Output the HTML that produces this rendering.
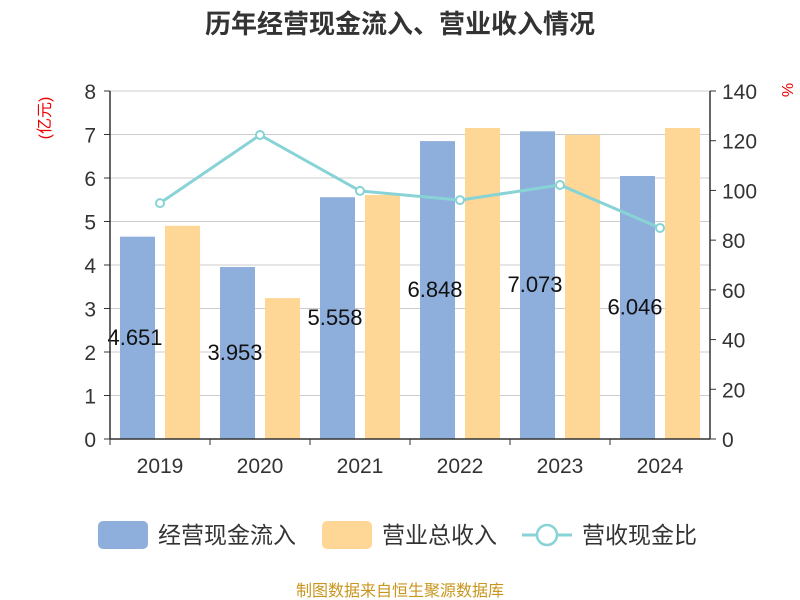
<!DOCTYPE html>
<html><head><meta charset="utf-8"><style>
body{margin:0;background:#fff;}
svg{display:block;font-family:"Liberation Sans","Noto Sans CJK SC",sans-serif;}
</style></head><body>
<svg id="chart" width="800" height="600">
<text x="400" y="33" text-anchor="middle" font-size="26" font-weight="bold" fill="#333">历年经营现金流入、营业收入情况</text>
<text x="50" y="118" font-size="16" fill="#e00" transform="rotate(-90 50 118)" text-anchor="middle">(亿元)</text>
<text x="782" y="90" font-size="16" fill="#e00" transform="rotate(90 782 90)" text-anchor="middle">%</text>
<g id="grid"></g><g id="bars"></g><g id="line"></g><g id="axes"></g>
<g>
<g><rect x="98" y="521" width="50" height="28" rx="5" fill="#8eaedb"/><text x="158" y="543" font-size="23" fill="#333">经营现金流入</text></g>
<g><rect x="322" y="521" width="50" height="28" rx="5" fill="#fed796"/><text x="382" y="543" font-size="23" fill="#333">营业总收入</text></g>
<g><line x1="522" y1="535" x2="572" y2="535" stroke="#88d3d6" stroke-width="3"/><circle cx="547" cy="535" r="10" fill="#fff" stroke="#88d3d6" stroke-width="2.5"/><text x="582" y="543" font-size="23" fill="#333">营收现金比</text></g>
</g>
<text x="400" y="596" text-anchor="middle" font-size="16" fill="#c8961e">制图数据来自恒生聚源数据库</text>
</svg>
<script>
const categories=["2019","2020","2021","2022","2023","2024"];
const cashInflow=[4.651,3.953,5.558,6.848,7.073,6.046];
const revenue=[4.90,3.24,5.61,7.15,6.99,7.15];
const ratio=[94.9,122.3,99.8,96.1,102.2,84.9];
const leftTicks=[0,1,2,3,4,5,6,7,8];
const rightTicks=[0,20,40,60,80,100,120,140];
const NS="http://www.w3.org/2000/svg";
const X0=110,X1=710,Y0=439,Y1=91;
const step=(X1-X0)/categories.length;
const yL=v=>Y0-(v/8)*(Y0-Y1);
const yR=v=>Y0-(v/140)*(Y0-Y1);
const xC=i=>X0+step*(i+0.5);
function mk(tag,attrs,parent,text){const e=document.createElementNS(NS,tag);for(const k in attrs)e.setAttribute(k,attrs[k]);if(text!==undefined)e.textContent=text;document.getElementById(parent).appendChild(e);return e;}
leftTicks.forEach(t=>{
 const g=mk("line",{x1:X0,x2:X1,y1:yL(t),y2:yL(t),stroke:"#ccc","stroke-width":1},"grid");
 
 
 const tk=mk("line",{x1:X0-6,x2:X0,y1:yL(t),y2:yL(t),stroke:"#333"},"axes");
 
 
 const l=mk("text",{x:X0-14,y:yL(t)+8,"text-anchor":"end","font-size":21,fill:"#333"},"axes",String(t));
 
 
});
rightTicks.forEach(t=>{
 const tk=mk("line",{x1:X1,x2:X1+6,y1:yR(t),y2:yR(t),stroke:"#333"},"axes");
 
 
 const l=mk("text",{x:X1+12,y:yR(t)+8,"font-size":21,fill:"#333"},"axes",String(t));
 
 
});
[["x-axis",X0,Y0,X1,Y0],["left-axis",X0,Y0,X0,Y1],["right-axis",X1,Y0,X1,Y1]].forEach(a=>{
 const l=mk("line",{x1:a[1],y1:a[2],x2:a[3],y2:a[4],stroke:"#333","stroke-width":1.5},"axes");
 
 
});
categories.forEach((c,i)=>{
 const tk=mk("line",{x1:X0+step*i,x2:X0+step*i,y1:Y0,y2:Y0+6,stroke:"#333"},"axes");
 
 
 const l=mk("text",{x:xC(i),y:Y0+34,"text-anchor":"middle","font-size":21,fill:"#333"},"axes",c);
 
 
 const b=mk("rect",{x:xC(i)-40,y:yL(cashInflow[i]),width:35,height:Y0-yL(cashInflow[i]),fill:"#8eaedb"},"bars");
 
 
 const r=mk("rect",{x:xC(i)+5,y:yL(revenue[i]),width:35,height:Y0-yL(revenue[i]),fill:"#fed796"},"bars");
 
 
 const v=mk("text",{x:xC(i)-25,y:yL(cashInflow[i]/2)+7,"text-anchor":"middle","font-size":22,fill:"#111"},"line",cashInflow[i].toFixed(3));
 
 
});
const pts=ratio.map((v,i)=>xC(i)+","+yR(v)).join(" ");
const pl=mk("polyline",{points:pts,fill:"none",stroke:"#88d3d6","stroke-width":3},"line");


ratio.forEach((v,i)=>{
 const p=mk("circle",{cx:xC(i),cy:yR(v),r:4,fill:"#fff",stroke:"#88d3d6","stroke-width":2},"line");
 
 
});
</script>
</body></html>
